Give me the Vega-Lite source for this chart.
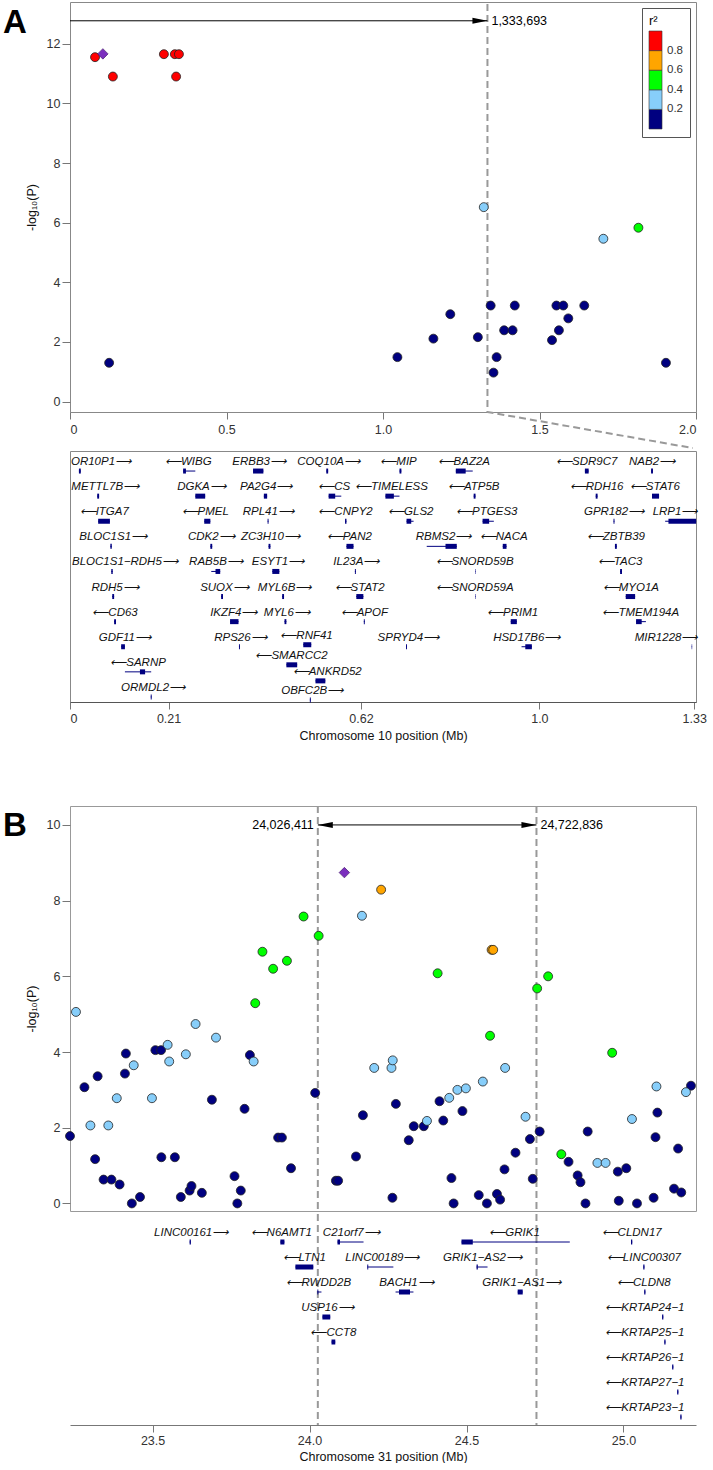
{
  "$schema": "https://vega.github.io/schema/vega-lite/v6.json",
  "background": "white",
  "padding": {"left": 2, "top": 1, "right": 0, "bottom": 0},
  "config": {
    "font": "Liberation Sans",
    "view": {"stroke": "#888", "strokeWidth": 1},
    "axis": {"labelFont": "Liberation Sans", "labelFontSize": 12.5, "labelColor": "#333", "tickColor": "#777", "domainColor": "#888", "tickSize": 7, "grid": false, "titleFont": "Liberation Sans", "titleFontWeight": "normal", "titleFontSize": 12.5, "titleColor": "#111"},
    "legend": {"labelFont": "Liberation Sans", "titleFont": "Liberation Sans"}
  },
  "datasets": {
    "aPts": [
      {"pos": 0.125, "logp": 1.30, "r2": 0.1}, {"pos": 1.046, "logp": 1.49, "r2": 0.1}, {"pos": 1.161, "logp": 2.11, "r2": 0.1}, {"pos": 1.215, "logp": 2.93, "r2": 0.1}, {"pos": 1.303, "logp": 2.16, "r2": 0.1}, {"pos": 1.344, "logp": 3.22, "r2": 0.1}, {"pos": 1.353, "logp": 0.97, "r2": 0.1}, {"pos": 1.363, "logp": 1.49, "r2": 0.1}, {"pos": 1.387, "logp": 2.39, "r2": 0.1}, {"pos": 1.414, "logp": 2.39, "r2": 0.1}, {"pos": 1.421, "logp": 3.22, "r2": 0.1}, {"pos": 1.540, "logp": 2.06, "r2": 0.1}, {"pos": 1.554, "logp": 3.22, "r2": 0.1}, {"pos": 1.562, "logp": 2.39, "r2": 0.1}, {"pos": 1.576, "logp": 3.22, "r2": 0.1}, {"pos": 1.592, "logp": 2.79, "r2": 0.1}, {"pos": 1.643, "logp": 3.22, "r2": 0.1}, {"pos": 1.904, "logp": 1.30, "r2": 0.1},
      {"pos": 1.322, "logp": 6.52, "r2": 0.3}, {"pos": 1.704, "logp": 5.46, "r2": 0.3},
      {"pos": 1.816, "logp": 5.83, "r2": 0.5},
      {"pos": 0.080, "logp": 11.55, "r2": 0.9}, {"pos": 0.137, "logp": 10.90, "r2": 0.9}, {"pos": 0.300, "logp": 11.65, "r2": 0.9}, {"pos": 0.335, "logp": 11.65, "r2": 0.9}, {"pos": 0.348, "logp": 11.65, "r2": 0.9}, {"pos": 0.339, "logp": 10.90, "r2": 0.9}
    ],
    "aLead": [{"pos": 0.105, "logp": 11.66}],
    "aLine": [{"pos": 1.3337, "logp": 13.33, "o": 0}, {"pos": 1.3337, "logp": -0.35, "o": 1}, {"pos": 1.99, "logp": -1.56, "o": 2}],
    "aArrow": [{"pos": 0, "pos2": 1.3337, "logp": 12.77}],
    "aHead": [{"pos": 1.3337, "logp": 12.77, "label": "1,333,693"}],
    "aGenes": [
      {"g": "OR10P1⟶", "row": 1, "s": 0.019, "e": 0.023, "cs": 0.019, "ce": 0.023, "lx": 0.066},
      {"g": "⟵WIBG", "row": 1, "s": 0.241, "e": 0.267, "cs": 0.241, "ce": 0.247, "lx": 0.252},
      {"g": "ERBB3⟶", "row": 1, "s": 0.390, "e": 0.412, "cs": 0.390, "ce": 0.412, "lx": 0.403},
      {"g": "COQ10A⟶", "row": 1, "s": 0.546, "e": 0.550, "cs": 0.546, "ce": 0.550, "lx": 0.551},
      {"g": "⟵MIP", "row": 1, "s": 0.702, "e": 0.706, "cs": 0.702, "ce": 0.706, "lx": 0.700},
      {"g": "⟵BAZ2A", "row": 1, "s": 0.822, "e": 0.858, "cs": 0.822, "ce": 0.843, "lx": 0.839},
      {"g": "⟵SDR9C7", "row": 1, "s": 1.097, "e": 1.105, "cs": 1.097, "ce": 1.105, "lx": 1.101},
      {"g": "NAB2⟶", "row": 1, "s": 1.238, "e": 1.242, "cs": 1.238, "ce": 1.242, "lx": 1.240},
      {"g": "METTL7B⟶", "row": 2, "s": 0.058, "e": 0.062, "cs": 0.058, "ce": 0.062, "lx": 0.075},
      {"g": "DGKA⟶", "row": 2, "s": 0.267, "e": 0.288, "cs": 0.267, "ce": 0.288, "lx": 0.280},
      {"g": "PA2G4⟶", "row": 2, "s": 0.413, "e": 0.420, "cs": 0.413, "ce": 0.420, "lx": 0.418},
      {"g": "⟵CS", "row": 2, "s": 0.551, "e": 0.578, "cs": 0.551, "ce": 0.565, "lx": 0.563},
      {"g": "⟵TIMELESS", "row": 2, "s": 0.672, "e": 0.702, "cs": 0.672, "ce": 0.690, "lx": 0.685},
      {"g": "⟵ATP5B", "row": 2, "s": 0.860, "e": 0.864, "cs": 0.860, "ce": 0.864, "lx": 0.860},
      {"g": "⟵RDH16", "row": 2, "s": 1.120, "e": 1.124, "cs": 1.120, "ce": 1.124, "lx": 1.122},
      {"g": "⟵STAT6", "row": 2, "s": 1.240, "e": 1.255, "cs": 1.240, "ce": 1.255, "lx": 1.246},
      {"g": "⟵ITGA7", "row": 3, "s": 0.060, "e": 0.085, "cs": 0.060, "ce": 0.085, "lx": 0.073},
      {"g": "⟵PMEL", "row": 3, "s": 0.286, "e": 0.299, "cs": 0.286, "ce": 0.299, "lx": 0.288},
      {"g": "RPL41⟶", "row": 3, "s": 0.421, "e": 0.423, "cs": 0.421, "ce": 0.423, "lx": 0.4225},
      {"g": "⟵CNPY2", "row": 3, "s": 0.586, "e": 0.589, "cs": 0.586, "ce": 0.589, "lx": 0.587},
      {"g": "⟵GLS2", "row": 3, "s": 0.717, "e": 0.732, "cs": 0.717, "ce": 0.727, "lx": 0.726},
      {"g": "⟵PTGES3", "row": 3, "s": 0.879, "e": 0.903, "cs": 0.879, "ce": 0.893, "lx": 0.888},
      {"g": "GPR182⟶", "row": 3, "s": 1.158, "e": 1.160, "cs": 1.158, "ce": 1.160, "lx": 1.159},
      {"g": "LRP1⟶", "row": 3, "s": 1.268, "e": 1.334, "cs": 1.275, "ce": 1.334, "lx": 1.289},
      {"g": "BLOC1S1⟶", "row": 4, "s": 0.086, "e": 0.089, "cs": 0.086, "ce": 0.089, "lx": 0.092},
      {"g": "CDK2⟶", "row": 4, "s": 0.299, "e": 0.303, "cs": 0.299, "ce": 0.303, "lx": 0.301},
      {"g": "ZC3H10⟶", "row": 4, "s": 0.423, "e": 0.427, "cs": 0.423, "ce": 0.427, "lx": 0.427},
      {"g": "⟵PAN2", "row": 4, "s": 0.589, "e": 0.604, "cs": 0.589, "ce": 0.604, "lx": 0.595},
      {"g": "RBMS2⟶", "row": 4, "s": 0.760, "e": 0.824, "cs": 0.800, "ce": 0.824, "lx": 0.796},
      {"g": "⟵NACA", "row": 4, "s": 0.922, "e": 0.930, "cs": 0.922, "ce": 0.930, "lx": 0.924},
      {"g": "⟵ZBTB39", "row": 4, "s": 1.161, "e": 1.165, "cs": 1.161, "ce": 1.165, "lx": 1.163},
      {"g": "BLOC1S1−RDH5⟶", "row": 5, "s": 0.088, "e": 0.091, "cs": 0.088, "ce": 0.091, "lx": 0.117},
      {"g": "RAB5B⟶", "row": 5, "s": 0.301, "e": 0.320, "cs": 0.310, "ce": 0.320, "lx": 0.311},
      {"g": "ESYT1⟶", "row": 5, "s": 0.431, "e": 0.446, "cs": 0.431, "ce": 0.446, "lx": 0.443},
      {"g": "IL23A⟶", "row": 5, "s": 0.607, "e": 0.609, "cs": 0.607, "ce": 0.609, "lx": 0.610},
      {"g": "⟵SNORD59B", "row": 5, "s": 0.8635, "e": 0.8645, "cs": 0.8635, "ce": 0.8645, "lx": 0.862},
      {"g": "⟵TAC3", "row": 5, "s": 1.172, "e": 1.176, "cs": 1.172, "ce": 1.176, "lx": 1.172},
      {"g": "RDH5⟶", "row": 6, "s": 0.090, "e": 0.094, "cs": 0.090, "ce": 0.094, "lx": 0.096},
      {"g": "SUOX⟶", "row": 6, "s": 0.322, "e": 0.326, "cs": 0.322, "ce": 0.326, "lx": 0.329},
      {"g": "MYL6B⟶", "row": 6, "s": 0.452, "e": 0.456, "cs": 0.452, "ce": 0.456, "lx": 0.457},
      {"g": "⟵STAT2", "row": 6, "s": 0.610, "e": 0.625, "cs": 0.610, "ce": 0.625, "lx": 0.617},
      {"g": "⟵SNORD59A", "row": 6, "s": 0.8635, "e": 0.8645, "cs": 0.8635, "ce": 0.8645, "lx": 0.862},
      {"g": "⟵MYO1A", "row": 6, "s": 1.184, "e": 1.204, "cs": 1.184, "ce": 1.204, "lx": 1.195},
      {"g": "⟵CD63", "row": 7, "s": 0.094, "e": 0.098, "cs": 0.094, "ce": 0.098, "lx": 0.096},
      {"g": "IKZF4⟶", "row": 7, "s": 0.341, "e": 0.359, "cs": 0.341, "ce": 0.359, "lx": 0.349},
      {"g": "MYL6⟶", "row": 7, "s": 0.457, "e": 0.461, "cs": 0.457, "ce": 0.461, "lx": 0.462},
      {"g": "⟵APOF", "row": 7, "s": 0.626, "e": 0.628, "cs": 0.626, "ce": 0.628, "lx": 0.627},
      {"g": "⟵PRIM1", "row": 7, "s": 0.939, "e": 0.952, "cs": 0.939, "ce": 0.952, "lx": 0.943},
      {"g": "⟵TMEM194A", "row": 7, "s": 1.206, "e": 1.227, "cs": 1.206, "ce": 1.218, "lx": 1.216},
      {"g": "GDF11⟶", "row": 8, "s": 0.109, "e": 0.117, "cs": 0.109, "ce": 0.117, "lx": 0.117},
      {"g": "RPS26⟶", "row": 8, "s": 0.360, "e": 0.362, "cs": 0.360, "ce": 0.362, "lx": 0.363},
      {"g": "⟵RNF41", "row": 7.92, "s": 0.497, "e": 0.514, "cs": 0.497, "ce": 0.514, "lx": 0.504},
      {"g": "SPRYD4⟶", "row": 8, "s": 0.716, "e": 0.718, "cs": 0.716, "ce": 0.718, "lx": 0.721},
      {"g": "HSD17B6⟶", "row": 8, "s": 0.962, "e": 0.984, "cs": 0.970, "ce": 0.984, "lx": 0.973},
      {"g": "MIR1228⟶", "row": 8, "s": 1.3245, "e": 1.3255, "cs": 1.3245, "ce": 1.3255, "lx": 1.270},
      {"g": "⟵SMARCC2", "row": 8.72, "s": 0.461, "e": 0.484, "cs": 0.461, "ce": 0.484, "lx": 0.472},
      {"g": "⟵SARNP", "row": 9.0, "s": 0.117, "e": 0.173, "cs": 0.149, "ce": 0.160, "lx": 0.145},
      {"g": "⟵ANKRD52", "row": 9.36, "s": 0.523, "e": 0.544, "cs": 0.523, "ce": 0.544, "lx": 0.548},
      {"g": "ORMDL2⟶", "row": 10, "s": 0.172, "e": 0.174, "cs": 0.172, "ce": 0.174, "lx": 0.177},
      {"g": "OBFC2B⟶", "row": 10.12, "s": 0.511, "e": 0.513, "cs": 0.511, "ce": 0.513, "lx": 0.516}
    ],
    "bPts": [
      {"pos": 23.237, "logp": 1.78, "r2": 0.1}, {"pos": 23.283, "logp": 3.07, "r2": 0.1}, {"pos": 23.317, "logp": 1.17, "r2": 0.1}, {"pos": 23.325, "logp": 3.36, "r2": 0.1}, {"pos": 23.344, "logp": 0.63, "r2": 0.1}, {"pos": 23.369, "logp": 0.63, "r2": 0.1}, {"pos": 23.395, "logp": 0.50, "r2": 0.1}, {"pos": 23.412, "logp": 3.43, "r2": 0.1}, {"pos": 23.415, "logp": 3.96, "r2": 0.1}, {"pos": 23.434, "logp": 0.0, "r2": 0.1}, {"pos": 23.460, "logp": 0.17, "r2": 0.1}, {"pos": 23.509, "logp": 4.05, "r2": 0.1}, {"pos": 23.527, "logp": 4.05, "r2": 0.1}, {"pos": 23.528, "logp": 1.22, "r2": 0.1}, {"pos": 23.571, "logp": 1.22, "r2": 0.1}, {"pos": 23.590, "logp": 0.17, "r2": 0.1}, {"pos": 23.618, "logp": 0.34, "r2": 0.1}, {"pos": 23.624, "logp": 0.46, "r2": 0.1}, {"pos": 23.657, "logp": 0.28, "r2": 0.1}, {"pos": 23.689, "logp": 2.74, "r2": 0.1}, {"pos": 23.761, "logp": 0.72, "r2": 0.1}, {"pos": 23.770, "logp": 0.0, "r2": 0.1}, {"pos": 23.781, "logp": 0.34, "r2": 0.1}, {"pos": 23.793, "logp": 2.50, "r2": 0.1}, {"pos": 23.810, "logp": 3.92, "r2": 0.1}, {"pos": 23.900, "logp": 1.74, "r2": 0.1}, {"pos": 23.912, "logp": 1.74, "r2": 0.1}, {"pos": 23.941, "logp": 0.93, "r2": 0.1}, {"pos": 24.018, "logp": 2.92, "r2": 0.1}, {"pos": 24.084, "logp": 0.60, "r2": 0.1}, {"pos": 24.091, "logp": 0.60, "r2": 0.1}, {"pos": 24.148, "logp": 1.24, "r2": 0.1}, {"pos": 24.170, "logp": 2.33, "r2": 0.1}, {"pos": 24.264, "logp": 0.15, "r2": 0.1}, {"pos": 24.275, "logp": 2.63, "r2": 0.1}, {"pos": 24.316, "logp": 1.67, "r2": 0.1}, {"pos": 24.332, "logp": 2.04, "r2": 0.1}, {"pos": 24.364, "logp": 2.04, "r2": 0.1}, {"pos": 24.414, "logp": 2.70, "r2": 0.1}, {"pos": 24.426, "logp": 2.19, "r2": 0.1}, {"pos": 24.452, "logp": 0.67, "r2": 0.1}, {"pos": 24.459, "logp": 0.0, "r2": 0.1}, {"pos": 24.487, "logp": 2.44, "r2": 0.1}, {"pos": 24.539, "logp": 0.22, "r2": 0.1}, {"pos": 24.565, "logp": 0.0, "r2": 0.1}, {"pos": 24.597, "logp": 0.25, "r2": 0.1}, {"pos": 24.607, "logp": 0.10, "r2": 0.1}, {"pos": 24.621, "logp": 0.90, "r2": 0.1}, {"pos": 24.656, "logp": 1.34, "r2": 0.1}, {"pos": 24.702, "logp": 1.70, "r2": 0.1}, {"pos": 24.711, "logp": 0.65, "r2": 0.1}, {"pos": 24.733, "logp": 1.90, "r2": 0.1}, {"pos": 24.825, "logp": 1.10, "r2": 0.1}, {"pos": 24.854, "logp": 0.74, "r2": 0.1}, {"pos": 24.863, "logp": 0.56, "r2": 0.1}, {"pos": 24.879, "logp": 0.0, "r2": 0.1}, {"pos": 24.886, "logp": 1.90, "r2": 0.1}, {"pos": 24.982, "logp": 0.84, "r2": 0.1}, {"pos": 24.985, "logp": 0.07, "r2": 0.1}, {"pos": 25.009, "logp": 0.93, "r2": 0.1}, {"pos": 25.043, "logp": 0.0, "r2": 0.1}, {"pos": 25.096, "logp": 0.15, "r2": 0.1}, {"pos": 25.102, "logp": 1.75, "r2": 0.1}, {"pos": 25.108, "logp": 2.40, "r2": 0.1}, {"pos": 25.161, "logp": 0.39, "r2": 0.1}, {"pos": 25.174, "logp": 1.45, "r2": 0.1}, {"pos": 25.184, "logp": 0.29, "r2": 0.1}, {"pos": 25.215, "logp": 3.11, "r2": 0.1},
      {"pos": 23.256, "logp": 5.06, "r2": 0.3}, {"pos": 23.302, "logp": 2.06, "r2": 0.3}, {"pos": 23.359, "logp": 2.06, "r2": 0.3}, {"pos": 23.386, "logp": 2.78, "r2": 0.3}, {"pos": 23.440, "logp": 3.65, "r2": 0.3}, {"pos": 23.498, "logp": 2.78, "r2": 0.3}, {"pos": 23.548, "logp": 4.19, "r2": 0.3}, {"pos": 23.553, "logp": 3.75, "r2": 0.3}, {"pos": 23.606, "logp": 3.94, "r2": 0.3}, {"pos": 23.637, "logp": 4.74, "r2": 0.3}, {"pos": 23.702, "logp": 4.38, "r2": 0.3}, {"pos": 23.822, "logp": 3.75, "r2": 0.3}, {"pos": 24.206, "logp": 3.58, "r2": 0.3}, {"pos": 24.261, "logp": 3.58, "r2": 0.3}, {"pos": 24.265, "logp": 3.78, "r2": 0.3}, {"pos": 24.374, "logp": 2.18, "r2": 0.3}, {"pos": 24.445, "logp": 2.79, "r2": 0.3}, {"pos": 24.471, "logp": 3.00, "r2": 0.3}, {"pos": 24.498, "logp": 3.04, "r2": 0.3}, {"pos": 24.552, "logp": 3.22, "r2": 0.3}, {"pos": 24.623, "logp": 3.58, "r2": 0.3}, {"pos": 24.688, "logp": 2.29, "r2": 0.3}, {"pos": 24.917, "logp": 1.07, "r2": 0.3}, {"pos": 24.943, "logp": 1.07, "r2": 0.3}, {"pos": 25.027, "logp": 2.23, "r2": 0.3}, {"pos": 25.105, "logp": 3.09, "r2": 0.3}, {"pos": 25.199, "logp": 2.94, "r2": 0.3}, {"pos": 24.167, "logp": 7.60, "r2": 0.3},
      {"pos": 23.981, "logp": 7.58, "r2": 0.5}, {"pos": 24.029, "logp": 7.07, "r2": 0.5}, {"pos": 23.850, "logp": 6.65, "r2": 0.5}, {"pos": 23.928, "logp": 6.41, "r2": 0.5}, {"pos": 23.884, "logp": 6.20, "r2": 0.5}, {"pos": 23.827, "logp": 5.29, "r2": 0.5}, {"pos": 24.408, "logp": 6.08, "r2": 0.5}, {"pos": 24.760, "logp": 6.00, "r2": 0.5}, {"pos": 24.725, "logp": 5.68, "r2": 0.5}, {"pos": 24.575, "logp": 4.43, "r2": 0.5}, {"pos": 24.802, "logp": 1.30, "r2": 0.5}, {"pos": 24.964, "logp": 3.98, "r2": 0.5},
      {"pos": 24.228, "logp": 8.29, "r2": 0.7}, {"pos": 24.580, "logp": 6.70, "r2": 0.7}, {"pos": 24.585, "logp": 6.70, "r2": 0.7}
    ],
    "bLead": [{"pos": 24.111, "logp": 8.74}],
    "bBounds": [{"pos": 24.026411}, {"pos": 24.722836}],
    "bArrow": [{"pos": 24.026411, "pos2": 24.722836, "logp": 10}],
    "bHeadL": [{"pos": 24.026411, "logp": 10, "label": "24,026,411"}],
    "bHeadR": [{"pos": 24.722836, "logp": 10, "label": "24,722,836"}],
    "bGenes": [
      {"g": "LINC00161⟶", "row": 1, "s": 23.618, "e": 23.622, "cs": 23.618, "ce": 23.622, "lx": 23.623},
      {"g": "⟵N6AMT1", "row": 1, "s": 23.907, "e": 23.920, "cs": 23.907, "ce": 23.920, "lx": 23.910},
      {"g": "C21orf7⟶", "row": 1, "s": 24.089, "e": 24.172, "cs": 24.089, "ce": 24.097, "lx": 24.133},
      {"g": "⟵GRIK1", "row": 1, "s": 24.484, "e": 24.829, "cs": 24.484, "ce": 24.520, "lx": 24.653},
      {"g": "⟵CLDN17", "row": 1, "s": 25.024, "e": 25.028, "cs": 25.024, "ce": 25.028, "lx": 25.026},
      {"g": "⟵LTN1", "row": 2, "s": 23.955, "e": 24.012, "cs": 23.955, "ce": 24.012, "lx": 23.983},
      {"g": "LINC00189⟶", "row": 2, "s": 24.184, "e": 24.267, "cs": 24.184, "ce": 24.187, "lx": 24.232},
      {"g": "GRIK1−AS2⟶", "row": 2, "s": 24.532, "e": 24.567, "cs": 24.532, "ce": 24.536, "lx": 24.551},
      {"g": "⟵LINC00307", "row": 2, "s": 25.063, "e": 25.067, "cs": 25.063, "ce": 25.067, "lx": 25.065},
      {"g": "⟵RWDD2B", "row": 3, "s": 24.025, "e": 24.038, "cs": 24.025, "ce": 24.028, "lx": 24.028},
      {"g": "BACH1⟶", "row": 3, "s": 24.274, "e": 24.331, "cs": 24.285, "ce": 24.320, "lx": 24.309},
      {"g": "GRIK1−AS1⟶", "row": 3, "s": 24.663, "e": 24.679, "cs": 24.663, "ce": 24.679, "lx": 24.676},
      {"g": "⟵CLDN8", "row": 3, "s": 25.066, "e": 25.070, "cs": 25.066, "ce": 25.070, "lx": 25.065},
      {"g": "USP16⟶", "row": 4, "s": 24.041, "e": 24.066, "cs": 24.041, "ce": 24.066, "lx": 24.057},
      {"g": "⟵KRTAP24−1", "row": 4, "s": 25.123, "e": 25.127, "cs": 25.123, "ce": 25.127, "lx": 25.068},
      {"g": "⟵CCT8", "row": 5, "s": 24.070, "e": 24.082, "cs": 24.070, "ce": 24.082, "lx": 24.076},
      {"g": "⟵KRTAP25−1", "row": 5, "s": 25.130, "e": 25.134, "cs": 25.130, "ce": 25.134, "lx": 25.068},
      {"g": "⟵KRTAP26−1", "row": 6, "s": 25.155, "e": 25.159, "cs": 25.155, "ce": 25.159, "lx": 25.068},
      {"g": "⟵KRTAP27−1", "row": 7, "s": 25.171, "e": 25.175, "cs": 25.171, "ce": 25.175, "lx": 25.068},
      {"g": "⟵KRTAP23−1", "row": 8, "s": 25.181, "e": 25.185, "cs": 25.181, "ce": 25.185, "lx": 25.068}
    ]
  },
  "spacing": 61,
  "vconcat": [
    {
      "spacing": 0,
      "vconcat": [
        {
          "width": 626,
          "height": 410,
          "title": {"text": "A", "anchor": "start", "frame": "bounds", "orient": "top", "baseline": "top", "offset": -38, "dx": -22, "fontSize": 33, "fontWeight": "bold", "color": "#000", "font": "Liberation Sans"},
          "layer": [
            {
              "data": {"name": "aLine"},
              "mark": {"type": "line", "clip": false, "strokeDash": [7, 4], "strokeWidth": 2, "strokeJoin": "bevel", "color": "#999"},
              "encoding": {
                "x": {"field": "pos", "type": "quantitative", "scale": {"domain": [0, 2], "nice": false, "zero": false}, "axis": {"values": [0, 0.5, 1, 1.5, 2], "labelExpr": "datum.value == 0 ? '0' : format(datum.value, '.1f')", "title": null, "tickSize": 7, "labelPadding": 4}},
                "y": {"field": "logp", "type": "quantitative", "scale": {"domain": [-0.35, 13.4], "nice": false, "zero": false}, "axis": {"values": [0, 2, 4, 6, 8, 10, 12], "title": "-log₁₀(P)", "titlePadding": 8, "tickSize": 8, "domain": false}},
                "order": {"field": "o", "type": "quantitative"}
              }
            },
            {
              "data": {"name": "aArrow"},
              "mark": {"type": "rule", "color": "#000", "strokeWidth": 1},
              "encoding": {
                "x": {"field": "pos", "type": "quantitative", "scale": {"domain": [0, 2], "nice": false, "zero": false}},
                "x2": {"field": "pos2"},
                "y": {"field": "logp", "type": "quantitative", "scale": {"domain": [-0.35, 13.4], "nice": false, "zero": false}}
              }
            },
            {
              "data": {"name": "aHead"},
              "mark": {"type": "point", "shape": "M-2,-0.4L0,0L-2,0.4Z", "filled": true, "size": 225, "color": "#000", "opacity": 1},
              "encoding": {
                "x": {"field": "pos", "type": "quantitative", "scale": {"domain": [0, 2], "nice": false, "zero": false}},
                "y": {"field": "logp", "type": "quantitative", "scale": {"domain": [-0.35, 13.4], "nice": false, "zero": false}}
              }
            },
            {
              "data": {"name": "aHead"},
              "mark": {"type": "text", "align": "left", "baseline": "middle", "dx": 4, "fontSize": 12.5, "color": "#000"},
              "encoding": {
                "x": {"field": "pos", "type": "quantitative", "scale": {"domain": [0, 2], "nice": false, "zero": false}},
                "y": {"field": "logp", "type": "quantitative", "scale": {"domain": [-0.35, 13.4], "nice": false, "zero": false}},
                "text": {"field": "label"}
              }
            },
            {
              "data": {"name": "aPts"},
              "mark": {"type": "point", "shape": "circle", "filled": true, "size": 80, "stroke": "#222", "strokeWidth": 0.8, "opacity": 1},
              "encoding": {
                "x": {"field": "pos", "type": "quantitative", "scale": {"domain": [0, 2], "nice": false, "zero": false}},
                "y": {"field": "logp", "type": "quantitative", "scale": {"domain": [-0.35, 13.4], "nice": false, "zero": false}},
                "color": {"field": "r2", "type": "quantitative", "scale": {"type": "threshold", "domain": [0.2, 0.4, 0.6, 0.8], "range": ["#000080", "#87CEFA", "#00FF00", "#FFA500", "#FF0000"]}, "legend": {"title": "r²", "type": "gradient", "orient": "top-right", "offset": 6, "direction": "vertical", "gradientLength": 98, "gradientThickness": 13, "padding": 7, "strokeColor": "#555", "fillColor": "#fff", "titleFontSize": 13, "titleFontWeight": "normal", "titlePadding": 3, "labelFontSize": 11.5, "labelColor": "#333", "labelOffset": 5, "gradientStrokeColor": "#333", "gradientStrokeWidth": 0.6}}
              }
            },
            {
              "data": {"name": "aLead"},
              "mark": {"type": "point", "shape": "diamond", "filled": true, "size": 110, "color": "#7B2FBE", "stroke": "#3a1060", "strokeWidth": 0.6, "opacity": 1},
              "encoding": {
                "x": {"field": "pos", "type": "quantitative", "scale": {"domain": [0, 2], "nice": false, "zero": false}},
                "y": {"field": "logp", "type": "quantitative", "scale": {"domain": [-0.35, 13.4], "nice": false, "zero": false}}
              }
            }
          ]
        },
        {
          "width": 626,
          "height": 251,
          "data": {"name": "aGenes"},
          "layer": [
            {
              "mark": {"type": "rule", "color": "#000080", "strokeWidth": 1, "yOffset": 9},
              "encoding": {
                "x": {"field": "s", "type": "quantitative", "scale": {"domain": [0, 1.3337], "nice": false, "zero": false}, "axis": {"values": [0, 0.21, 0.62, 1.0, 1.33], "labelExpr": "datum.value == 0 ? '0' : datum.value == 1 ? '1.0' : format(datum.value, '.2f')", "title": "Chromosome 10 position (Mb)", "titlePadding": 5, "tickSize": 7, "labelPadding": 3, "domainColor": "#555"}},
                "x2": {"field": "e"},
                "y": {"field": "row", "type": "quantitative", "scale": {"domain": [0.56, 10.56], "reverse": true, "nice": false, "zero": false}, "axis": null}
              }
            },
            {
              "mark": {"type": "rule", "color": "#000080", "strokeWidth": 5, "yOffset": 9},
              "encoding": {
                "x": {"field": "cs", "type": "quantitative", "scale": {"domain": [0, 1.3337], "nice": false, "zero": false}},
                "x2": {"field": "ce"},
                "y": {"field": "row", "type": "quantitative", "scale": {"domain": [0.56, 10.56], "reverse": true, "nice": false, "zero": false}}
              }
            },
            {
              "mark": {"type": "text", "fontStyle": "italic", "fontSize": 11.5, "baseline": "middle", "align": "center", "color": "#111"},
              "encoding": {
                "x": {"field": "lx", "type": "quantitative", "scale": {"domain": [0, 1.3337], "nice": false, "zero": false}},
                "y": {"field": "row", "type": "quantitative", "scale": {"domain": [0.56, 10.56], "reverse": true, "nice": false, "zero": false}},
                "text": {"field": "g"}
              }
            }
          ]
        }
      ]
    },
    {
      "spacing": 0,
      "vconcat": [
        {
          "width": 626,
          "height": 405,
          "title": {"text": "B", "anchor": "start", "frame": "bounds", "orient": "top", "baseline": "top", "offset": -38, "dx": -22, "fontSize": 33, "fontWeight": "bold", "color": "#000", "font": "Liberation Sans"},
          "view": {"stroke": "#999"},
          "layer": [
            {
              "data": {"name": "bBounds"},
              "mark": {"type": "rule", "strokeDash": [7, 4], "strokeWidth": 2, "color": "#999"},
              "encoding": {
                "x": {"field": "pos", "type": "quantitative", "scale": {"domain": [23.237, 25.231], "nice": false, "zero": false}, "axis": null}
              }
            },
            {
              "data": {"name": "bArrow"},
              "mark": {"type": "rule", "color": "#000", "strokeWidth": 1},
              "encoding": {
                "x": {"field": "pos", "type": "quantitative", "scale": {"domain": [23.237, 25.231], "nice": false, "zero": false}, "axis": null},
                "x2": {"field": "pos2"},
                "y": {"field": "logp", "type": "quantitative", "scale": {"domain": [-0.2, 10.5], "nice": false, "zero": false}, "axis": {"values": [0, 2, 4, 6, 8, 10], "title": "-log₁₀(P)", "titlePadding": 8, "tickSize": 8, "domain": false}}
              }
            },
            {
              "data": {"name": "bHeadL"},
              "mark": {"type": "point", "shape": "M2,-0.4L0,0L2,0.4Z", "filled": true, "size": 225, "color": "#000", "opacity": 1},
              "encoding": {
                "x": {"field": "pos", "type": "quantitative", "scale": {"domain": [23.237, 25.231], "nice": false, "zero": false}},
                "y": {"field": "logp", "type": "quantitative", "scale": {"domain": [-0.2, 10.5], "nice": false, "zero": false}}
              }
            },
            {
              "data": {"name": "bHeadR"},
              "mark": {"type": "point", "shape": "M-2,-0.4L0,0L-2,0.4Z", "filled": true, "size": 225, "color": "#000", "opacity": 1},
              "encoding": {
                "x": {"field": "pos", "type": "quantitative", "scale": {"domain": [23.237, 25.231], "nice": false, "zero": false}},
                "y": {"field": "logp", "type": "quantitative", "scale": {"domain": [-0.2, 10.5], "nice": false, "zero": false}}
              }
            },
            {
              "data": {"name": "bHeadL"},
              "mark": {"type": "text", "align": "right", "baseline": "middle", "dx": -4, "fontSize": 12.5, "color": "#000"},
              "encoding": {
                "x": {"field": "pos", "type": "quantitative", "scale": {"domain": [23.237, 25.231], "nice": false, "zero": false}},
                "y": {"field": "logp", "type": "quantitative", "scale": {"domain": [-0.2, 10.5], "nice": false, "zero": false}},
                "text": {"field": "label"}
              }
            },
            {
              "data": {"name": "bHeadR"},
              "mark": {"type": "text", "align": "left", "baseline": "middle", "dx": 4, "fontSize": 12.5, "color": "#000"},
              "encoding": {
                "x": {"field": "pos", "type": "quantitative", "scale": {"domain": [23.237, 25.231], "nice": false, "zero": false}},
                "y": {"field": "logp", "type": "quantitative", "scale": {"domain": [-0.2, 10.5], "nice": false, "zero": false}},
                "text": {"field": "label"}
              }
            },
            {
              "data": {"name": "bPts"},
              "mark": {"type": "point", "shape": "circle", "filled": true, "size": 80, "stroke": "#222", "strokeWidth": 0.8, "opacity": 1},
              "encoding": {
                "x": {"field": "pos", "type": "quantitative", "scale": {"domain": [23.237, 25.231], "nice": false, "zero": false}},
                "y": {"field": "logp", "type": "quantitative", "scale": {"domain": [-0.2, 10.5], "nice": false, "zero": false}},
                "color": {"field": "r2", "type": "quantitative", "scale": {"type": "threshold", "domain": [0.2, 0.4, 0.6, 0.8], "range": ["#000080", "#87CEFA", "#00FF00", "#FFA500", "#FF0000"]}, "legend": {"title": "r²", "type": "gradient", "orient": "top-right", "offset": 6, "direction": "vertical", "gradientLength": 98, "gradientThickness": 13, "padding": 7, "strokeColor": "#555", "fillColor": "#fff", "titleFontSize": 13, "titleFontWeight": "normal", "titlePadding": 3, "labelFontSize": 11.5, "labelColor": "#333", "labelOffset": 5, "gradientStrokeColor": "#333", "gradientStrokeWidth": 0.6}}
              }
            },
            {
              "data": {"name": "bLead"},
              "mark": {"type": "point", "shape": "diamond", "filled": true, "size": 110, "color": "#7B2FBE", "stroke": "#3a1060", "strokeWidth": 0.6, "opacity": 1},
              "encoding": {
                "x": {"field": "pos", "type": "quantitative", "scale": {"domain": [23.237, 25.231], "nice": false, "zero": false}},
                "y": {"field": "logp", "type": "quantitative", "scale": {"domain": [-0.2, 10.5], "nice": false, "zero": false}}
              }
            }
          ]
        },
        {
          "width": 626,
          "height": 211,
          "view": {"stroke": null},
          "layer": [
            {
              "data": {"name": "bBounds"},
              "mark": {"type": "rule", "strokeDash": [7, 4], "strokeWidth": 2, "color": "#999"},
              "encoding": {
                "x": {"field": "pos", "type": "quantitative", "scale": {"domain": [23.237, 25.231], "nice": false, "zero": false}, "axis": {"values": [23.5, 24.0, 24.5, 25.0], "format": ".1f", "title": "Chromosome 31 position (Mb)", "titlePadding": 4, "tickSize": 7, "labelPadding": 2, "domainColor": "#777"}}
              }
            },
            {
              "data": {"name": "bGenes"},
              "mark": {"type": "rule", "color": "#000080", "strokeWidth": 1, "yOffset": 9},
              "encoding": {
                "x": {"field": "s", "type": "quantitative", "scale": {"domain": [23.237, 25.231], "nice": false, "zero": false}},
                "x2": {"field": "e"},
                "y": {"field": "row", "type": "quantitative", "scale": {"domain": [0.24, 8.68], "reverse": true, "nice": false, "zero": false}, "axis": null}
              }
            },
            {
              "data": {"name": "bGenes"},
              "mark": {"type": "rule", "color": "#000080", "strokeWidth": 5, "yOffset": 9},
              "encoding": {
                "x": {"field": "cs", "type": "quantitative", "scale": {"domain": [23.237, 25.231], "nice": false, "zero": false}},
                "x2": {"field": "ce"},
                "y": {"field": "row", "type": "quantitative", "scale": {"domain": [0.24, 8.68], "reverse": true, "nice": false, "zero": false}}
              }
            },
            {
              "data": {"name": "bGenes"},
              "mark": {"type": "text", "fontStyle": "italic", "fontSize": 11.5, "baseline": "middle", "align": "center", "color": "#111"},
              "encoding": {
                "x": {"field": "lx", "type": "quantitative", "scale": {"domain": [23.237, 25.231], "nice": false, "zero": false}},
                "y": {"field": "row", "type": "quantitative", "scale": {"domain": [0.24, 8.68], "reverse": true, "nice": false, "zero": false}},
                "text": {"field": "g"}
              }
            }
          ]
        }
      ]
    }
  ]
}
